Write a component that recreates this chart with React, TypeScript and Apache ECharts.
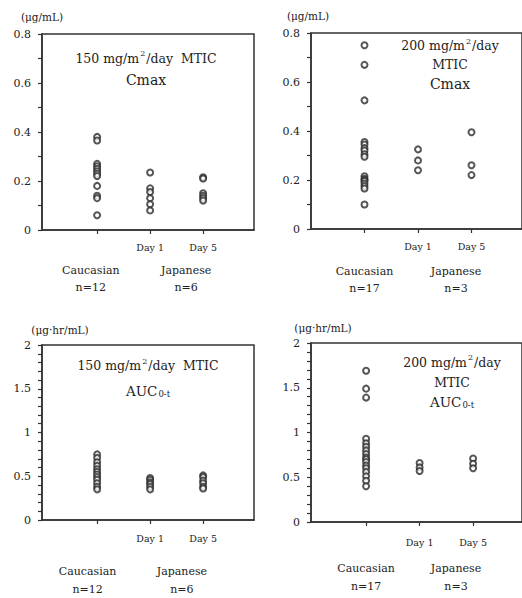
import React, { useEffect, useRef } from 'react';
import * as echarts from 'echarts';

// ---- Data ----
const dayLabels = ['Day 1', 'Day 5'];
const groupLabels = ['Caucasian', 'Japanese'];

const cmax150Caucasian = [0.38, 0.365, 0.27, 0.26, 0.25, 0.24, 0.23, 0.22, 0.18, 0.14, 0.13, 0.06];
const cmax150Day1 = [0.235, 0.17, 0.155, 0.13, 0.105, 0.08];
const cmax150Day5 = [0.215, 0.21, 0.15, 0.14, 0.13, 0.12];

const cmax200Caucasian = [0.75, 0.67, 0.525, 0.355, 0.345, 0.33, 0.32, 0.305, 0.295, 0.215, 0.205, 0.2, 0.195, 0.185, 0.175, 0.165, 0.1];
const cmax200Day1 = [0.325, 0.28, 0.24];
const cmax200Day5 = [0.395, 0.26, 0.22];

const auc150Caucasian = [0.75, 0.71, 0.66, 0.62, 0.58, 0.55, 0.52, 0.49, 0.46, 0.42, 0.38, 0.35];
const auc150Day1 = [0.48, 0.46, 0.43, 0.41, 0.38, 0.35];
const auc150Day5 = [0.51, 0.49, 0.45, 0.42, 0.38, 0.36];

const auc200Caucasian = [1.69, 1.49, 1.39, 0.93, 0.88, 0.84, 0.8, 0.76, 0.72, 0.7, 0.67, 0.63, 0.6, 0.56, 0.51, 0.46, 0.4];
const auc200Day1 = [0.66, 0.61, 0.57];
const auc200Day5 = [0.71, 0.65, 0.6];

const FONT = "'DejaVu Serif', 'Liberation Serif', serif";
const INK = '#222';
const AXIS = '#333';

type Panel = {
  box: { left: number; top: number };
  grid: { left: number; top: number; width: number; height: number };
  xMin: number; xMax: number; yMax: number; yInterval: number; minorSplit: number;
  unit: string; unitPad: number[]; unitGap: number;
  cau: number[]; d1: number[]; d5: number[];
  nCau: string; nJap: string;
  dayMargin: number; groupMargin: number; groupLineHeight: number; groupPos: number[];
  title: string; titleLeft: number; titleTop: number; titleLineHeight: number;
};

const panels: Panel[] = [
  {
    box: { left: 0, top: 0 },
    grid: { left: 42, top: 34, width: 212, height: 196 },
    xMin: -0.04, xMax: 3.96, yMax: 0.8, yInterval: 0.2, minorSplit: 2,
    unit: '(μg/mL)', unitPad: [0, 0, 0, 0], unitGap: 12,
    cau: cmax150Caucasian, d1: cmax150Day1, d5: cmax150Day5,
    nCau: 'n=12', nJap: 'n=6',
    dayMargin: 12, groupMargin: 32, groupLineHeight: 17, groupPos: [0.88, 2.68],
    title: '{a|150 mg/m}{s|2}{a|/day  MTIC}\n{b|Cmax}',
    titleLeft: 146, titleTop: 47, titleLineHeight: 22,
  },
  {
    box: { left: 261, top: 0 },
    grid: { left: 50, top: 33, width: 211, height: 196 },
    xMin: 0, xMax: 3.944, yMax: 0.8, yInterval: 0.2, minorSplit: 2,
    unit: '(μg/mL)', unitPad: [0, 6, 0, 0], unitGap: 12,
    cau: cmax200Caucasian, d1: cmax200Day1, d5: cmax200Day5,
    nCau: 'n=17', nJap: 'n=3',
    dayMargin: 12, groupMargin: 34, groupLineHeight: 17, groupPos: [1.0, 2.71],
    title: '{a|200 mg/m}{s|2}{a|/day}\n{a|MTIC}\n{b|Cmax}',
    titleLeft: 189, titleTop: 36, titleLineHeight: 19,
  },
  {
    box: { left: 0, top: 299 },
    grid: { left: 42, top: 46, width: 212, height: 179 },
    xMin: -0.04, xMax: 3.96, yMax: 2, yInterval: 0.5, minorSplit: 5,
    unit: '(μg·hr/mL)', unitPad: [0, 0, 0, 36], unitGap: 10,
    cau: auc150Caucasian, d1: auc150Day1, d5: auc150Day5,
    nCau: 'n=12', nJap: 'n=6',
    dayMargin: 13, groupMargin: 42, groupLineHeight: 18, groupPos: [0.82, 2.6],
    title: '{a|150 mg/m}{s|2}{a|/day  MTIC}\n{c|AUC}{sub|0-t}',
    titleLeft: 148, titleTop: 54, titleLineHeight: 25,
  },
  {
    box: { left: 261, top: 299 },
    grid: { left: 50, top: 44, width: 211, height: 179 },
    xMin: -0.03, xMax: 3.914, yMax: 2, yInterval: 0.5, minorSplit: 5,
    unit: '(μg·hr/mL)', unitPad: [0, 0, 0, 24], unitGap: 10,
    cau: auc200Caucasian, d1: auc200Day1, d5: auc200Day5,
    nCau: 'n=17', nJap: 'n=3',
    dayMargin: 15, groupMargin: 37, groupLineHeight: 18, groupPos: [1.0, 2.68],
    title: '{a|200 mg/m}{s|2}{a|/day}\n{a|MTIC}\n{c|AUC}{sub|0-t}',
    titleLeft: 191, titleTop: 53, titleLineHeight: 20,
  },
];

function dayFormatter(x: number): string {
  if (Math.abs(x - 2) < 1e-6) return dayLabels[0];
  if (Math.abs(x - 3) < 1e-6) return dayLabels[1];
  return '';
}

function buildOption(p: Panel) {
  const lh = p.titleLineHeight;
  const base = { fontFamily: FONT, color: INK, lineHeight: lh, fontWeight: 'normal' };
  const groupFormatter = (x: number): string => {
    if (Math.abs(x - p.groupPos[0]) < 1e-6) return `${groupLabels[0]}\n${p.nCau}`;
    if (Math.abs(x - p.groupPos[1]) < 1e-6) return `${groupLabels[1]}\n${p.nJap}`;
    return '';
  };
  return {
    animation: false,
    title: [
      {
        text: p.title, left: p.titleLeft, top: p.titleTop, textAlign: 'center', padding: 0,
        textStyle: {
          fontWeight: 'normal',
          rich: {
            a: { ...base, fontSize: 12.5 },
            s: { ...base, fontSize: 8, padding: [0, 1, 9, 1] },
            b: { ...base, fontSize: 14 },
            c: { ...base, fontSize: 13.5 },
            sub: { ...base, fontSize: 8.5, padding: [6, 0, 0, 1] },
          },
        },
      },
    ],
    grid: [{ ...p.grid, show: true, borderColor: AXIS, borderWidth: 1.5 }],
    xAxis: [
      {
        type: 'value', gridIndex: 0, min: p.xMin, max: p.xMax, position: 'bottom',
        axisLine: { show: true, onZero: false, lineStyle: { color: AXIS, width: 1.5 } },
        axisTick: { show: true, customValues: [1, 2, 3], length: 4, lineStyle: { color: AXIS, width: 1.2 } },
        axisLabel: {
          customValues: [2, 3],
          formatter: dayFormatter,
          margin: p.dayMargin, fontFamily: FONT, fontSize: 9.5, color: INK,
        },
        splitLine: { show: false },
      },
      {
        type: 'value', gridIndex: 0, min: p.xMin, max: p.xMax, position: 'bottom',
        axisLine: { show: false }, axisTick: { show: false },
        axisLabel: {
          customValues: p.groupPos,
          formatter: groupFormatter,
          margin: p.groupMargin, lineHeight: p.groupLineHeight, fontFamily: FONT, fontSize: 11, color: INK,
        },
        splitLine: { show: false },
      },
    ],
    yAxis: [
      {
        type: 'value', gridIndex: 0, min: 0, max: p.yMax, interval: p.yInterval,
        name: p.unit, nameLocation: 'end', nameGap: p.unitGap,
        nameTextStyle: { fontFamily: FONT, fontSize: 10.5, color: INK, padding: p.unitPad },
        axisLine: { show: true, onZero: false, lineStyle: { color: AXIS, width: 1.5 } },
        axisTick: { show: true, length: 4, lineStyle: { color: AXIS, width: 1.2 } },
        minorTick: { show: true, splitNumber: p.minorSplit, length: 4, lineStyle: { color: AXIS, width: 1.2 } },
        axisLabel: { fontFamily: FONT, fontSize: 11, color: INK, margin: 11 },
        splitLine: { show: false },
        minorSplitLine: { show: false },
      },
    ],
    series: [
      {
        type: 'scatter', symbol: 'emptyCircle',
        symbolSize: 6,
        itemStyle: { color: '#2a2a2a', borderWidth: 1.6 },
        data: [...p.cau.map((y) => [1, y]), ...p.d1.map((y) => [2, y]), ...p.d5.map((y) => [3, y])],
      },
    ],
  };
}

function PanelChart({ p }: { p: Panel }) {
  const ref = useRef<HTMLDivElement>(null);
  useEffect(() => {
    if (!ref.current) return;
    const chart = echarts.init(ref.current, undefined, { renderer: 'svg' });
    chart.setOption(buildOption(p) as any);
    return () => chart.dispose();
  }, []);
  return (
    <div style={{ position: 'absolute', left: p.box.left, top: p.box.top, width: 261, height: 299 }}>
      <div ref={ref} style={{ width: 261, height: 299 }} />
    </div>
  );
}

export default function App() {
  return (
    <div style={{ position: 'absolute', left: 0, top: 0, width: 522, height: 598 }}>
      {panels.map((p, i) => (
        <PanelChart key={i} p={p} />
      ))}
    </div>
  );
}
